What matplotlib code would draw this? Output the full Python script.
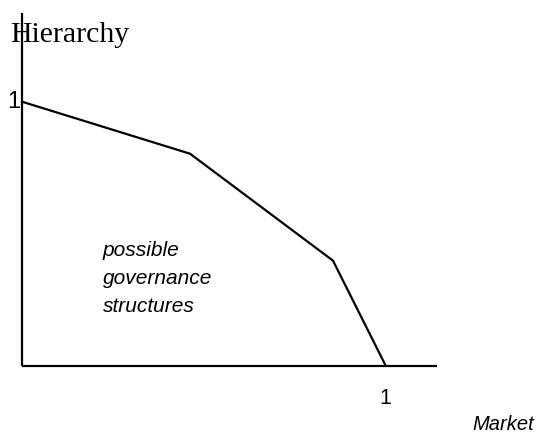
import matplotlib
matplotlib.use("Agg")
import matplotlib.pyplot as plt

# frontier of possible governance structures (market share, hierarchy share)
market = [0.0, 0.462, 0.855, 1.0]
hierarchy = [1.0, 0.803, 0.398, 0.0]
axis_ticks = ["1", "1"]
region_label = "possible\ngovernance\nstructures"

px_x, px_y = 363.7, 264.0  # pixels per unit
x0, y0 = 22.0, 365.7        # origin in pixels

fig = plt.figure(figsize=(5.38, 4.38), dpi=100)
ax = fig.add_axes([0, 0, 1, 1])
ax.set_xlim(-x0 / px_x, (538 - x0) / px_x)
ax.set_ylim((y0 - 438) / px_y, y0 / px_y)
ax.axis("off")

# axes drawn as plain lines
ax.plot([0, 0], [0, (y0 - 13) / px_y], color="black", lw=1.6, solid_capstyle="butt")
ax.plot([0, (437 - x0) / px_x], [0, 0], color="black", lw=1.6, solid_capstyle="butt")

ax.plot(market, hierarchy, color="black", lw=1.6)

ax.text(-12 / px_x, (y0 - 42) / px_y, "Hierarchy", family="Liberation Serif",
        fontsize=21.5, ha="left", va="baseline")
ax.text(-0.004, hierarchy[0], axis_ticks[0], family="Liberation Sans",
        fontsize=17, ha="right", va="center")
ax.text(market[-1], (y0 - 398) / px_y, axis_ticks[1], family="Liberation Sans",
        fontsize=15.5, ha="center", va="center")
ax.text((472 - x0) / px_x, (y0 - 425) / px_y, "Market", family="Liberation Sans",
        style="italic", fontsize=14.5, ha="left", va="center")
ax.text((102.7 - x0) / px_x, (y0 - 241) / px_y, region_label,
        family="Liberation Sans", style="italic", fontsize=15,
        ha="left", va="top", linespacing=1.6)

fig.savefig("out.png", dpi=100)
